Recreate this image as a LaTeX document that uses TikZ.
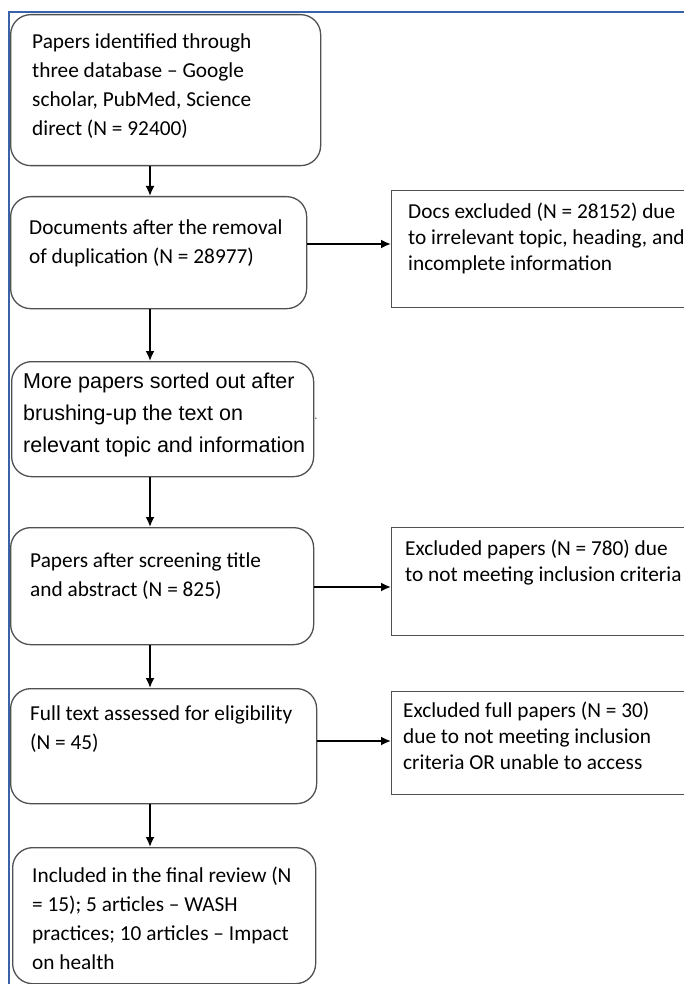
\documentclass[tikz,border=0pt]{standalone}
\usepackage{fontspec}
\setmainfont{Carlito}
\newfontfamily\arialfont{Liberation Sans}
\usepackage{tikz}
\usetikzlibrary{arrows.meta}

\definecolor{boxgray}{HTML}{505050}
\definecolor{framecol}{HTML}{3A62A8}

\begin{document}
\begin{tikzpicture}[x=1pt,y=-1pt,>={Latex[length=10pt,width=9pt]}]
\tikzstyle{stage}=[draw=boxgray, line width=1.3pt, rounded corners=20pt,
inner sep=0pt, anchor=north west]
\tikzstyle{excl}=[draw=boxgray, line width=1.3pt, inner sep=0pt,
anchor=north west, minimum width=330pt]
\tikzstyle{txt}=[anchor=north west, inner sep=0pt, align=left,
font=\fontsize{21.3}{29}\selectfont]
\tikzstyle{sidetxt}=[txt, font=\fontsize{21.3}{26}\selectfont]
\tikzstyle{link}=[->, line width=1.8pt]

\useasboundingbox (0,0) rectangle (684,984);
\draw[framecol, line width=1.2pt] (684,12) -| (9,984);

% left column
\path (10,14) node (b1) [stage, minimum width=310pt, minimum height=151pt] {};
\path (b1.north west)+(22,13.7) node (t1) [txt]
  {\strut Papers identified through\\three database -- Google\\scholar, PubMed, Science\\direct (N = 92400)};
\path (10,196) node (b2) [stage, minimum width=296pt, minimum height=112pt] {};
\path (b2.north west)+(19,17.7) node (t2) [txt]
  {\strut Documents after the removal\\of duplication (N = 28977)};
\path (11,361) node (b3) [stage, minimum width=302pt, minimum height=115pt] {};
\path (b3.north west)+(12,4.6) node (t3) [txt, font=\arialfont\fontsize{21.5}{32}\selectfont]
  {\strut More papers sorted out after\\brushing-up the text on\\relevant topic and information};
\path (314,419) node (dot) [anchor=base west, inner sep=0pt, text=gray, font=\fontsize{14}{16}\selectfont] {.};
\path (10,527) node (b4) [stage, minimum width=303pt, minimum height=117pt] {};
\path (b4.north west)+(20,19.7) node (t4) [txt]
  {\strut Papers after screening title\\and abstract (N = 825)};
\path (10,688) node (b5) [stage, minimum width=306pt, minimum height=115pt] {};
\path (b5.north west)+(20,11.7) node (t5) [txt]
  {\strut Full text assessed for eligibility\\(N = 45)};
\path (12,847) node (b6) [stage, minimum width=303pt, minimum height=136pt] {};
\path (b6.north west)+(20,14.7) node (t6) [txt]
  {\strut Included in the final review (N\\= 15); 5 articles -- WASH\\practices; 10 articles -- Impact\\on health};

% exclusions
\path (391,190) node (s1) [excl, minimum height=117pt] {};
\path (s1.north west)+(17,9.8) node (u1) [sidetxt]
  {\strut Docs excluded (N = 28152) due\\to irrelevant topic, heading, and\\incomplete information};
\path (391,527) node (s2) [excl, minimum height=108pt] {};
\path (s2.north west)+(14,9.8) node (u2) [sidetxt]
  {\strut Excluded papers (N = 780) due\\to not meeting inclusion criteria};
\path (391,691) node (s3) [excl, minimum height=103pt] {};
\path (s3.north west)+(12,7.8) node (u3) [sidetxt]
  {\strut Excluded full papers (N = 30)\\due to not meeting inclusion\\criteria OR unable to access};

% connectors
\coordinate (spine) at (150,0);
\coordinate (r1) at (0,244);
\coordinate (r2) at (0,587);
\coordinate (r3) at (0,741);
\draw[link] (b1.south -| spine) -- (b2.north -| spine);
\draw[link] (b2.south -| spine) -- (b3.north -| spine);
\draw[link] (b3.south -| spine) -- (b4.north -| spine);
\draw[link] (b4.south -| spine) -- (b5.north -| spine);
\draw[link] (b5.south -| spine) -- (b6.north -| spine);
\draw[link] (b2.east |- r1) -- (s1.west |- r1);
\draw[link] (b4.east |- r2) -- (s2.west |- r2);
\draw[link] (b5.east |- r3) -- (s3.west |- r3);
\end{tikzpicture}
\end{document}
